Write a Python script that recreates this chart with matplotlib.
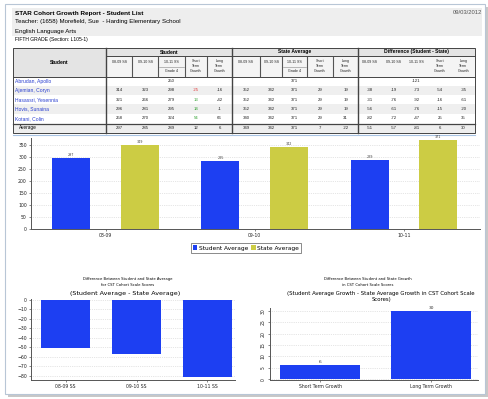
import matplotlib
matplotlib.use('Agg')
import matplotlib.pyplot as plt
from matplotlib.patches import Rectangle

# ---- report data ----
names = ['Abrudan, Apollo', 'Ajemian, Coryn', 'Hasassri, Yesennia', 'Hovis, Sunaina', 'Kotani, Colin']
stu_0809 = [None, 314, 321, 296, 258]
stu_0910 = [None, 323, 266, 281, 270]
stu_1011 = [250, 298, 279, 295, 324]
stu_short = [None, -25, 13, 14, 54]
stu_long = [None, -16, -42, -1, 66]
st_0809 = [None, 352, 352, 352, 340]
st_0910 = [None, 342, 342, 342, 342]
st_1011 = [371, 371, 371, 371, 371]
st_short = [None, 29, 29, 29, 29]
st_long = [None, 19, 19, 19, 31]
df_0809 = [None, -38, -31, -56, -82]
df_0910 = [None, -19, -76, -61, -72]
df_1011 = [-121, -73, -92, -76, -47]
df_short = [None, -54, -16, -15, 25]
df_long = [None, -35, -61, -20, 35]
avg_student = [297, 285, 289, 12, 6]
avg_state = [349, 342, 371, 7, -22]
avg_diff = [-51, -57, -81, 6, 30]

years = ['08-09', '09-10', '10-11']
student_avg = [297, 285, 289]
state_avg = [349, 342, 371]
diff_labels = ['08-09 SS', '09-10 SS', '10-11 SS']
diff_avg = [-51, -57, -81]
growth_labels = ['Short Term Growth', 'Long Term Growth']
growth_diff = [6, 30]

BLUE = '#1d3ff2'
YELLOW = '#cccc44'
W, H = 489, 399

fig = plt.figure(figsize=(4.89, 3.99), dpi=100)
fig.patch.set_facecolor('white')

bg = fig.add_axes([0, 0, 1, 1], zorder=0)
bg.set_xlim(0, W)
bg.set_ylim(H, 0)
bg.axis('off')


def px_axes(x0, y0, x1, y1):
    return fig.add_axes([x0 / W, 1 - y1 / H, (x1 - x0) / W, (y1 - y0) / H], zorder=2)


# page with shadow
bg.add_patch(Rectangle((8, 7), 480, 390, fc='#c8c8c8', ec='none'))
bg.add_patch(Rectangle((5, 4), 480, 390, fc='white', ec='#b8c6d6', lw=0.8))
bg.add_patch(Rectangle((12, 8), 470, 28, fc='#eeeeee', ec='none'))

tf = 'Liberation Sans'
bg.text(15, 13, 'STAR Cohort Growth Report - Student List', fontsize=4.6, fontweight='bold',
        family=tf, va='center')
bg.text(15, 22, 'Teacher: (1658) Morefield, Sue  - Harding Elementary School', fontsize=4.4,
        family=tf, va='center')
bg.text(15, 31, 'English Language Arts', fontsize=4.4, family=tf, va='center')
bg.text(15, 39.5, 'FIFTH GRADE (Section: L105-1)', fontsize=3.6, family=tf, va='center')
bg.text(482, 12, '09/03/2012', fontsize=4.2, family=tf, va='center', ha='right', color='#555555')

# ---- table ----
stu_edges = [106, 132, 158, 185, 207, 232]
st_edges = [232, 260, 282, 307, 333, 358]
df_edges = [358, 382, 405, 428, 452, 475]
t_top, g_bot, h_bot = 48, 56, 76.5
row_h = 9.3
avg_top, avg_bot = 123.5, 132.5

bg.add_patch(Rectangle((13, t_top), 93, h_bot - t_top, fc='#e4e4e4', ec='none'))
bg.add_patch(Rectangle((106, t_top), 369, g_bot - t_top, fc='#e4e4e4', ec='none'))
bg.add_patch(Rectangle((106, g_bot), 369, h_bot - g_bot, fc='#f4f4f4', ec='none'))
for i in range(len(names)):
    if i % 2 == 1:
        bg.add_patch(Rectangle((13, h_bot + i * row_h), 462, row_h, fc='#efefef', ec='none'))
bg.add_patch(Rectangle((13, avg_top), 462, avg_bot - avg_top, fc='#eeeeee', ec='none'))

lc = '#444444'
bg.add_patch(Rectangle((13, t_top), 462, avg_bot - t_top, fc='none', ec=lc, lw=0.7))
for x in [106, 232, 358]:
    bg.plot([x, x], [t_top, avg_bot], color=lc, lw=1.0)
bg.plot([106, 475], [g_bot, g_bot], color=lc, lw=0.7)
bg.plot([13, 475], [h_bot, h_bot], color=lc, lw=0.7)
bg.plot([13, 475], [avg_top, avg_top], color=lc, lw=0.9)
for edges in [stu_edges, st_edges]:
    for x in edges[1:-1]:
        bg.plot([x, x], [g_bot + 1, h_bot - 1], color='#555555', lw=0.8)
    bg.plot([edges[2] + 1, edges[3] - 1], [g_bot + 11, g_bot + 11], color='#888888', lw=0.4)

bg.text(59.5, (t_top + h_bot) / 2, 'Student', fontsize=3.6, fontweight='bold', family=tf,
        ha='center', va='center')
for edges, title in [(stu_edges, 'Student'), (st_edges, 'State Average'),
                     (df_edges, 'Difference (Student - State)')]:
    bg.text((edges[0] + edges[-1]) / 2, (t_top + g_bot) / 2, title, fontsize=3.6,
            fontweight='bold', family=tf, ha='center', va='center')

sub_heads = ['08-09 SS', '09-10 SS', '10-11 SS', 'Short\nTerm\nGrowth', 'Long\nTerm\nGrowth']
for k, edges in enumerate([stu_edges, st_edges, df_edges]):
    for j, lab in enumerate(sub_heads):
        xc = (edges[j] + edges[j + 1]) / 2
        yc = g_bot + 6 if j < 3 else (g_bot + h_bot) / 2
        bg.text(xc, yc, lab, fontsize=2.6, family=tf, ha='center', va='center',
                linespacing=1.3, color='#222222')
        if j == 2 and k < 2:
            bg.text(xc, g_bot + 15.5, 'Grade 4', fontsize=2.6, family=tf, ha='center',
                    va='center', color='#222222')

cols = [stu_0809, stu_0910, stu_1011, stu_short, stu_long,
        st_0809, st_0910, st_1011, st_short, st_long,
        df_0809, df_0910, df_1011, df_short, df_long]
centers = [(e[j] + e[j + 1]) / 2 for e in [stu_edges, st_edges, df_edges] for j in range(5)]
for i, name in enumerate(names):
    yc = h_bot + (i + 0.5) * row_h
    bg.text(15, yc, name, fontsize=3.6, family=tf, color='#2a3fd0', va='center')
    for c, (col, xc) in enumerate(zip(cols, centers)):
        v = col[i]
        if v is None:
            continue
        color = '#222222'
        if c == 3:
            color = '#e03030' if v < 0 else '#30a030'
        bg.text(xc, yc, str(v), fontsize=3.1, family=tf, ha='center', va='center', color=color)

ya = (avg_top + avg_bot) / 2
bg.text(19, ya, 'Average', fontsize=3.4, family=tf, va='center')
for v, xc in zip(avg_student + avg_state + avg_diff, centers):
    bg.text(xc, ya, str(v), fontsize=3.1, family=tf, ha='center', va='center', color='#222222')
bg.plot([13, 475], [135, 135], color='#a8c4e4', lw=0.8)

cf = 'DejaVu Sans'


def style(ax):
    for s in ['top', 'right']:
        ax.spines[s].set_visible(False)
    for s in ['left', 'bottom']:
        ax.spines[s].set_color('#555555')
        ax.spines[s].set_linewidth(0.7)
    ax.tick_params(length=1.5, width=0.5, color='#555555', pad=1.5, labelsize=3.3,
                   labelcolor='#222222')
    ax.grid(axis='y', color='#cccccc', linestyle=':', linewidth=0.5)
    ax.set_axisbelow(True)
    ax.patch.set_alpha(0)
    for t in ax.get_xticklabels() + ax.get_yticklabels():
        t.set_family(cf)


# ---- top chart ----
ax1 = px_axes(31, 138, 480, 229)
xs = range(len(years))
b1 = ax1.bar([x - 0.23 for x in xs], student_avg, 0.255, color=BLUE, label='Student Average')
b2 = ax1.bar([x + 0.23 for x in xs], state_avg, 0.255, color=YELLOW, label='State Average')
for bars, vals in [(b1, student_avg), (b2, state_avg)]:
    for r, v in zip(bars, vals):
        ax1.text(r.get_x() + r.get_width() / 2, v + 4, str(v), fontsize=2.4, ha='center',
                 va='bottom', color='#444444')
ax1.set_xlim(-0.5, 2.51)
ax1.set_ylim(0, 380)
ax1.set_yticks(range(0, 351, 50))
ax1.set_xticks(list(xs))
ax1.set_xticklabels(years)
style(ax1)
fig.legend(handles=[b1, b2], loc='center', bbox_to_anchor=(246 / W, 1 - 248 / H), ncol=2,
           fontsize=4.2, frameon=True, fancybox=False, edgecolor='#555555',
           handlelength=0.7, handleheight=0.7, handletextpad=0.3, columnspacing=0.6,
           borderpad=0.35, prop={'family': cf, 'size': 4.2}).get_frame().set_linewidth(0.6)

# ---- bottom-left chart ----
ax2 = px_axes(31, 299, 235, 380)
ax2.bar(range(len(diff_labels)), diff_avg, 0.7, color=BLUE)
ax2.set_xlim(-0.49, 2.39)
ax2.set_ylim(-84.2, 1)
ax2.set_yticks(range(-80, 1, 10))
ax2.set_xticks(range(len(diff_labels)))
ax2.set_xticklabels(diff_labels)
style(ax2)
fig.text(128 / W, 1 - 279 / H, 'Difference Between Student and State Average',
         fontsize=2.7, ha='center', va='center', family=cf)
fig.text(128 / W, 1 - 285 / H, 'for CST Cohort Scale Scores',
         fontsize=2.7, ha='center', va='center', family=cf)
fig.text(125 / W, 1 - 293.5 / H, '(Student Average - State Average)',
         fontsize=4.6, ha='center', va='center', family=cf)

# ---- bottom-right chart ----
ax3 = px_axes(270, 308, 478, 380)
b3 = ax3.bar(range(len(growth_labels)), growth_diff, 0.72, color=BLUE)
for r, v in zip(b3, growth_diff):
    ax3.text(r.get_x() + r.get_width() / 2, v + 0.6, str(v), fontsize=3.2, ha='center',
             va='bottom', color='#333333')
ax3.set_xlim(-0.45, 1.42)
ax3.set_ylim(-0.4, 31.3)
ax3.set_yticks(range(0, 31, 5))
ax3.set_xticks(range(len(growth_labels)))
ax3.set_xticklabels(growth_labels)
style(ax3)
for t in ax3.get_yticklabels():
    t.set_rotation(90)
    t.set_va('center')
fig.text(368 / W, 1 - 279 / H, 'Difference Between Student and State Growth',
         fontsize=2.7, ha='center', va='center', family=cf)
fig.text(368 / W, 1 - 285 / H, 'in CST Cohort Scale Scores',
         fontsize=2.7, ha='center', va='center', family=cf)
fig.text(381 / W, 1 - 296.5 / H,
         '(Student Average Growth - State Average Growth in CST Cohort Scale\nScores)',
         fontsize=3.9, ha='center', va='center', family=cf, linespacing=1.1)

fig.savefig('out.png', dpi=100)
